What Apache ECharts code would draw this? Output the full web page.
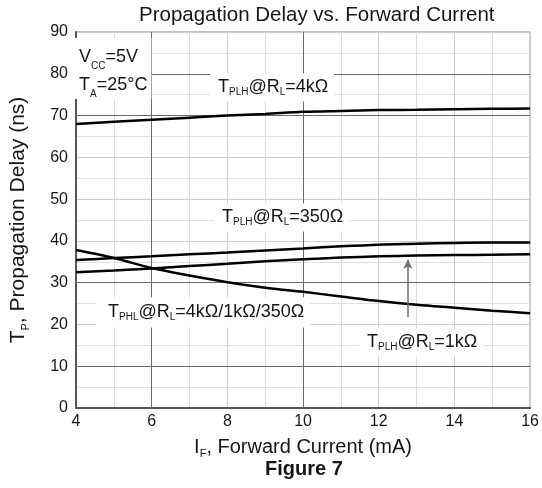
<!DOCTYPE html>
<html><head><meta charset="utf-8">
<script src="https://cdn.jsdelivr.net/npm/echarts@6/dist/echarts.min.js"></script>
<style>html,body{margin:0;padding:0;background:#fff}#c{width:542px;height:488px}</style>
</head><body><div id="c"></div>
<script>
// ---- data ----
const current  = [4, 5, 6, 7, 8, 9, 10, 11, 12, 13, 14, 15, 16];          // I_F (mA)
const tplh4k   = [68.0, 68.5, 69.0, 69.5, 70.0, 70.4, 70.9, 71.1, 71.3, 71.4, 71.5, 71.6, 71.7];
const tplh350  = [35.4, 35.9, 36.3, 36.8, 37.2, 37.7, 38.2, 38.7, 39.1, 39.3, 39.5, 39.6, 39.6];
const tplh1k   = [32.5, 32.9, 33.4, 34.0, 34.5, 35.1, 35.6, 36.0, 36.3, 36.5, 36.6, 36.7, 36.8];
const tphl     = [37.8, 35.9, 33.5, 31.7, 30.1, 28.8, 27.8, 26.7, 25.6, 24.7, 24.0, 23.3, 22.7];
const xTicks   = [4, 6, 8, 10, 12, 14, 16];
const yTicks   = [0, 10, 20, 30, 40, 50, 60, 70, 80, 90];
const arrowAtCurrent = [12.77];
const arrowSpan      = [21.7, 35.5];
const darkGridX = [6, 10];
const darkGridY = [10, 30, 70, 80];

const F = "'Liberation Sans', Arial, Helvetica, sans-serif";
const TXT = '#161616';
const pairs = ys => current.map((x, i) => [x, ys[i]]);

const labRich = {
  m: { fontSize: 18, fontFamily: F, fontWeight: 'normal', color: TXT, lineHeight: 22 },
  s: { fontSize: 10, fontFamily: F, fontWeight: 'normal', color: TXT, lineHeight: 10, verticalAlign: 'bottom' }
};
function lab(text, left, top, padding) {
  return {
    text: text, left: left, top: top, padding: padding,
    backgroundColor: '#fff',
    textStyle: { rich: labRich, fontFamily: F, fontWeight: 'normal' }
  };
}

const chart = echarts.init(document.getElementById('c'), null, { renderer: 'canvas' });
const lineStyle = { color: '#000', width: 2.5 };

chart.setOption({
  animation: false,
  backgroundColor: '#fff',
  title: [
    { text: 'Propagation Delay vs. Forward Current', left: 139, top: 3, padding: 0,
      textStyle: { fontFamily: F, fontSize: 20.5, fontWeight: 'normal', color: TXT, lineHeight: 24 } },
    { text: 'Figure 7', left: 265, top: 457, padding: 0,
      textStyle: { fontFamily: F, fontSize: 20, fontWeight: 'bold', color: TXT, lineHeight: 24 } },
    { text: '{m|V}{s|CC}{m|=5V}\n{m|T}{s|A}{m|=25°C}', left: 71, top: 33, padding: [10, 4, 0, 8],
      backgroundColor: '#fff',
      textStyle: { fontFamily: F, fontWeight: 'normal', rich: {
        m: { fontSize: 18, fontFamily: F, fontWeight: 'normal', color: TXT, lineHeight: 28 },
        s: { fontSize: 10, fontFamily: F, fontWeight: 'normal', color: TXT, lineHeight: 10, verticalAlign: 'bottom' } } } },
    lab('{m|T}{s|PLH}{m|@R}{s|L}{m|=4kΩ}', 210, 71.6, [4, 6, 4, 8]),
    lab('{m|T}{s|PLH}{m|@R}{s|L}{m|=350Ω}', 214, 201.6, [4, 6, 4, 8]),
    lab('{m|T}{s|PHL}{m|@R}{s|L}{m|=4kΩ/1kΩ/350Ω}', 96, 295.6, [5, 6, 5, 12]),
    lab('{m|T}{s|PLH}{m|@R}{s|L}{m|=1kΩ}', 359, 326.6, [4, 6, 4, 8])
  ],
  grid: { left: 70, right: 10, top: 32, bottom: 80, show: true, borderColor: '#808080', borderWidth: 1 },
  xAxis: {
    type: 'value', min: xTicks[0], max: xTicks[xTicks.length - 1], interval: xTicks[1] - xTicks[0],
    name: '{m|I}{s|F}{m|, Forward Current (mA)}', nameLocation: 'middle', nameGap: 27,
    nameTextStyle: { rich: {
      m: { fontSize: 20, fontFamily: F, color: TXT, lineHeight: 24 },
      s: { fontSize: 11, fontFamily: F, color: TXT, lineHeight: 11, verticalAlign: 'bottom' } } },
    axisLine: { lineStyle: { color: '#555', width: 2 } },
    axisTick: { show: false },
    axisLabel: { fontSize: 16, fontFamily: F, color: TXT, margin: 6 },
    splitLine: { show: true, lineStyle: { color: '#cdcdcd', width: 1 } },
    minorTick: { show: false, splitNumber: 2 },
    minorSplitLine: { show: true, lineStyle: { color: '#dcdcdc', width: 1 } }
  },
  yAxis: {
    type: 'value', min: yTicks[0], max: yTicks[yTicks.length - 1], interval: yTicks[1] - yTicks[0],
    name: '{m|T}{s|P}{m|, Propagation Delay (ns)}', nameLocation: 'middle', nameGap: 45, nameRotate: 90,
    nameTextStyle: { rich: {
      m: { fontSize: 21, fontFamily: F, color: TXT, lineHeight: 25 },
      s: { fontSize: 11, fontFamily: F, color: TXT, lineHeight: 11, verticalAlign: 'bottom' } } },
    axisLine: { show: true, lineStyle: { color: '#555', width: 2 } },
    axisTick: { show: false },
    axisLabel: { fontSize: 16, fontFamily: F, color: TXT, margin: 8 },
    splitLine: { show: true, lineStyle: { color: '#cdcdcd', width: 1 } },
    minorTick: { show: false, splitNumber: 2 },
    minorSplitLine: { show: true, lineStyle: { color: '#e0e0e0', width: 1 } }
  },
  series: [
    { name: 'TPLH@RL=4kΩ', type: 'line', data: pairs(tplh4k), smooth: 0.3, showSymbol: false, lineStyle: lineStyle, z: 3,
      markLine: { silent: true, symbol: 'none', label: { show: false }, z: 1,
        lineStyle: { color: '#6a6a6a', width: 1, type: 'solid' },
        data: darkGridX.map(v => ({ xAxis: v })).concat(darkGridY.map(v => ({ yAxis: v }))) } },
    { name: 'TPLH@RL=350Ω', type: 'line', data: pairs(tplh350), smooth: 0.3, showSymbol: false, lineStyle: lineStyle, z: 3 },
    { name: 'TPLH@RL=1kΩ', type: 'line', data: pairs(tplh1k), smooth: 0.3, showSymbol: false, lineStyle: lineStyle, z: 3,
      markLine: { silent: true, symbol: ['none', 'arrow'], symbolSize: [7, 9], label: { show: false },
        lineStyle: { color: '#6e6e6e', width: 1.5, type: 'solid' },
        data: [[{ coord: [arrowAtCurrent[0], arrowSpan[0]] }, { coord: [arrowAtCurrent[0], arrowSpan[1]] }]] } },
    { name: 'TPHL', type: 'line', data: pairs(tphl), smooth: 0.3, showSymbol: false, lineStyle: lineStyle, z: 3 }
  ]
});
</script>
</body></html>
